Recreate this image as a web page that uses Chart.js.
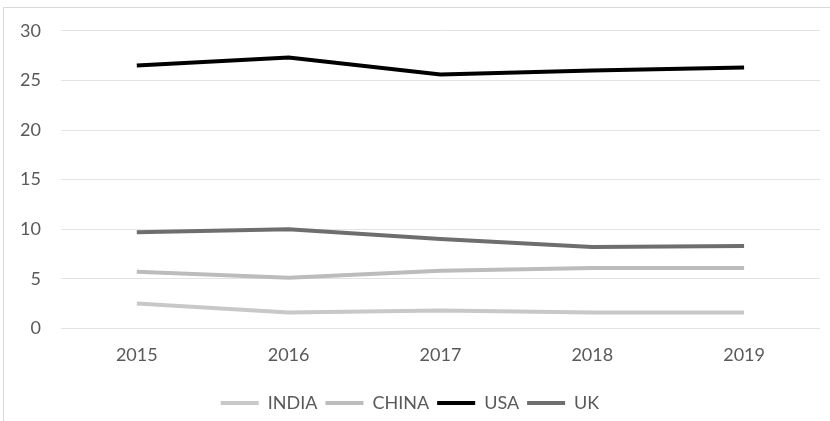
<!DOCTYPE html>
<html>
<head>
<meta charset="utf-8">
<script src="https://cdn.jsdelivr.net/npm/chart.js@4"></script>
<style>
    body { margin: 0; background: #fff; }
    #wrap {
        position: absolute; left: 3px; top: 7px; width: 827px; height: 414px;
        border-left: 1px solid #d9d9d9; border-top: 1px solid #d9d9d9;
        box-sizing: border-box;
    }
    #chart { display: block; position: absolute; left: 0; top: -8px; }
</style>
</head>
<body>
<div id="wrap"><canvas id="chart" width="826" height="422"></canvas></div>
<script>
    const years = ['2015', '2016', '2017', '2018', '2019'];
    const india = [2.5, 1.6, 1.8, 1.6, 1.6];
    const china = [5.7, 5.1, 5.8, 6.1, 6.1];
    const usa = [26.5, 27.3, 25.6, 26.0, 26.3];
    const uk = [9.7, 10.0, 9.0, 8.2, 8.3];

    function serie(label, data, color) {
        return {
            label: label,
            data: data,
            borderColor: color,
            backgroundColor: color,
            borderWidth: 4,
            pointRadius: 0,
            tension: 0,
            fill: false
        };
    }

    const fuente = { family: 'Lato', size: 18 };

    const ctx = document.getElementById('chart').getContext('2d');
    new Chart(ctx, {
        type: 'line',
        data: {
            labels: years,
            datasets: [
                serie('INDIA', india, '#c8c8c8'),
                serie('CHINA', china, '#bcbcbc'),
                serie('USA', usa, '#000000'),
                serie('UK', uk, '#6e6e6e')
            ]
        },
        options: {
            responsive: false,
            animation: false,
            layout: { padding: { left: -4, right: 10, top: 2, bottom: 0 } },
            scales: {
                x: {
                    offset: true,
                    grid: { display: false },
                    border: { display: false },
                    ticks: { color: '#595959', font: fuente, padding: 8 },
                    // espacio extra bajo los años
                    afterFit: s => { s.height += 12; }
                },
                y: {
                    min: 0,
                    max: 30,
                    ticks: { stepSize: 5, color: '#595959', font: fuente, padding: 20 },
                    grid: { color: '#e3e3e3', drawTicks: false },
                    border: { display: false }
                }
            },
            plugins: {
                legend: {
                    position: 'bottom',
                    labels: {
                        color: '#595959',
                        font: fuente,
                        boxWidth: 38,
                        boxHeight: 0,
                        padding: 8
                    }
                },
                tooltip: { enabled: false }
            }
        }
    });
</script>
</body>
</html>
